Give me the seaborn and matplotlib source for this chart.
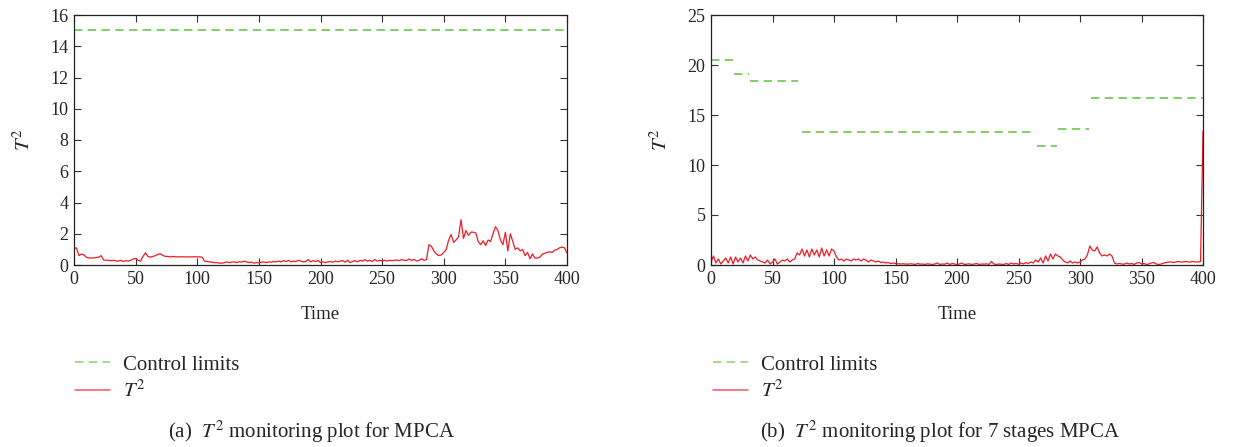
import numpy as np
import pandas as pd
import matplotlib
matplotlib.use("Agg")
import matplotlib.pyplot as plt
import seaborn as sns
from matplotlib.lines import Line2D

# ---------------- data ----------------
time_step = 2
t_max = 400

# (a) MPCA T^2, sampled every 2 time units (0..400)
t2_mpca = [
    1.05, 1.10, 0.60, 0.70, 0.65, 0.50, 0.45, 0.45, 0.45, 0.48,
    0.50, 0.60, 0.32, 0.30, 0.30, 0.28, 0.30, 0.27, 0.25, 0.30,
    0.22, 0.28, 0.25, 0.30, 0.38, 0.42, 0.30, 0.25, 0.55, 0.78,
    0.55, 0.50, 0.55, 0.60, 0.68, 0.72, 0.62, 0.55, 0.55, 0.52,
    0.55, 0.53, 0.52, 0.52, 0.53, 0.52, 0.52, 0.52, 0.52, 0.53,
    0.52, 0.52, 0.50, 0.25, 0.22, 0.20, 0.18, 0.15, 0.15, 0.12,
    0.12, 0.15, 0.20, 0.15, 0.18, 0.20, 0.15, 0.22, 0.18, 0.25,
    0.20, 0.15, 0.18, 0.12, 0.15, 0.15, 0.18, 0.20, 0.15, 0.20,
    0.18, 0.22, 0.20, 0.25, 0.20, 0.28, 0.22, 0.30, 0.20, 0.25,
    0.22, 0.30, 0.25, 0.20, 0.22, 0.35, 0.20, 0.28, 0.22, 0.30,
    0.15, 0.20, 0.15, 0.20, 0.22, 0.18, 0.25, 0.20, 0.25, 0.28,
    0.18, 0.30, 0.15, 0.22, 0.28, 0.20, 0.30, 0.25, 0.35, 0.25,
    0.30, 0.22, 0.35, 0.25, 0.30, 0.25, 0.30, 0.25, 0.30, 0.28,
    0.30, 0.32, 0.28, 0.35, 0.30, 0.30, 0.38, 0.30, 0.35, 0.25,
    0.30, 0.40, 0.30, 0.35, 1.30, 1.20, 0.90, 0.70, 0.60, 0.65,
    0.80, 1.00, 1.60, 1.95, 1.45, 1.60, 1.80, 2.90, 1.70, 2.20,
    1.90, 2.10, 2.10, 2.05, 1.50, 1.30, 1.55, 1.25, 1.60, 1.50,
    2.00, 2.45, 2.20, 1.60, 1.30, 2.10, 0.90, 2.00, 1.50, 1.00,
    1.10, 0.90, 1.00, 0.60, 0.80, 0.40, 0.70, 0.45, 0.45, 0.50,
    0.70, 0.75, 0.80, 0.85, 0.80, 0.95, 1.00, 1.10, 1.15, 1.10,
    0.75,
]

# (b) 7-stage MPCA T^2, sampled every 2 time units (0..400)
t2_stages = [
    0.30, 0.90, 0.20, 0.60, 0.10, 0.40, 0.70, 0.20, 0.80, 0.10,
    0.80, 0.30, 0.70, 0.20, 0.90, 0.40, 1.00, 0.60, 0.80, 0.50,
    0.40, 0.30, 0.20, 0.50, 0.10, 0.30, 0.60, 0.10, 0.30, 0.50,
    0.40, 0.60, 0.30, 0.50, 0.60, 1.20, 1.00, 1.60, 0.90, 1.50,
    0.80, 1.60, 1.00, 1.50, 0.80, 1.70, 0.90, 1.50, 0.90, 1.60,
    1.40, 0.80, 0.50, 0.60, 0.40, 0.60, 0.50, 0.40, 0.60, 0.50,
    0.60, 0.40, 0.60, 0.50, 0.30, 0.50, 0.40, 0.30, 0.40, 0.25,
    0.30, 0.20, 0.25, 0.15, 0.20, 0.15, 0.12, 0.10, 0.12, 0.10,
    0.08, 0.12, 0.10, 0.05, 0.15, 0.08, 0.10, 0.05, 0.12, 0.08,
    0.05, 0.10, 0.20, 0.05, 0.10, 0.08, 0.20, 0.05, 0.15, 0.10,
    0.05, 0.10, 0.20, 0.05, 0.08, 0.12, 0.05, 0.10, 0.15, 0.05,
    0.10, 0.08, 0.12, 0.05, 0.35, 0.10, 0.05, 0.10, 0.08, 0.05,
    0.15, 0.05, 0.20, 0.10, 0.15, 0.08, 0.20, 0.10, 0.25, 0.15,
    0.30, 0.20, 0.50, 0.30, 0.70, 0.20, 0.90, 0.40, 1.10, 0.60,
    1.10, 0.90, 0.80, 0.50, 0.30, 0.20, 0.40, 0.20, 0.30, 0.20,
    0.30, 0.50, 0.60, 1.00, 1.90, 1.50, 1.40, 1.80, 1.20, 0.90,
    1.00, 0.90, 1.10, 0.90, 0.20, 0.10, 0.15, 0.10, 0.08, 0.20,
    0.10, 0.15, 0.05, 0.20, 0.25, 0.10, 0.15, 0.05, 0.10, 0.20,
    0.25, 0.10, 0.05, 0.10, 0.20, 0.25, 0.30, 0.30, 0.25, 0.30,
    0.35, 0.30, 0.30, 0.35, 0.30, 0.30, 0.35, 0.30, 0.30, 0.35,
    13.40,
]

# control limits
mpca_limit = 15.05
stage_start = [0, 19, 32, 74, 265, 282, 309]
stage_end = [18, 31, 71, 264, 281, 307, 400]
stage_limit = [20.5, 19.1, 18.45, 13.35, 11.95, 13.65, 16.7]

x_ticks = [0, 50, 100, 150, 200, 250, 300, 350, 400]
y_ticks_a = [0, 2, 4, 6, 8, 10, 12, 14, 16]
y_ticks_b = [0, 5, 10, 15, 20, 25]

captions = [r"(a)  $T^2$ monitoring plot for MPCA",
            r"(b)  $T^2$ monitoring plot for 7 stages MPCA"]

# ---------------- style ----------------
sns.set_theme(style="ticks")
plt.rcParams["font.family"] = ["Liberation Serif", "DejaVu Serif"]
plt.rcParams["mathtext.fontset"] = "stix"
plt.rcParams["xtick.direction"] = "in"
plt.rcParams["ytick.direction"] = "in"

RED = "#ee1c25"
GREEN = "#5fc13c"
FS = 13
FS_BIG = 15

time = np.arange(0, t_max + 1, time_step)
df_a = pd.DataFrame({"Time": time, "T2": t2_mpca})
df_b = pd.DataFrame({"Time": time, "T2": t2_stages})
lim_a = pd.DataFrame({"Time": [0, t_max], "limit": [mpca_limit, mpca_limit]})
rows = []
for i, (s, e, v) in enumerate(zip(stage_start, stage_end, stage_limit)):
    rows.append({"stage": i, "Time": s, "limit": v})
    rows.append({"stage": i, "Time": e, "limit": v})
lim_b = pd.DataFrame(rows)

fig = plt.figure(figsize=(12.45, 4.47), dpi=100)
ax_a = fig.add_axes([74 / 1245, 1 - 265 / 447, 493 / 1245, 250 / 447])
ax_b = fig.add_axes([711 / 1245, 1 - 265 / 447, 492 / 1245, 250 / 447])

dash = (5.5, 3.5)
sns.lineplot(data=lim_a, x="Time", y="limit", ax=ax_a, color=GREEN,
             lw=1.1, legend=False).lines[0].set_dashes(dash)
sns.lineplot(data=df_a, x="Time", y="T2", ax=ax_a, color=RED, lw=0.9,
             legend=False)

sns.lineplot(data=lim_b, x="Time", y="limit", units="stage", estimator=None,
             ax=ax_b, color=GREEN, lw=1.1, legend=False)
for ln in ax_b.lines:
    ln.set_dashes(dash)
sns.lineplot(data=df_b, x="Time", y="T2", ax=ax_b, color=RED, lw=0.9,
             legend=False)

for ax, yt, ytop, cap, cx, lx in [
    (ax_a, y_ticks_a, 16, captions[0], 312, 75),
    (ax_b, y_ticks_b, 25, captions[1], 940, 713),
]:
    ax.set_xlim(0, t_max)
    ax.set_ylim(0, ytop)
    ax.set_xticks(x_ticks)
    ax.set_yticks(yt)
    ax.tick_params(axis="both", which="both", direction="in", length=5,
                   width=0.8, labelsize=FS, top=True, right=True,
                   color="#333333", pad=4)
    for sp in ax.spines.values():
        sp.set_visible(True)
        sp.set_linewidth(0.9)
        sp.set_color("#222222")
    ax.set_xlabel("Time", fontsize=FS + 0.5, labelpad=13)
    ax.set_ylabel(r"$T^2$", fontsize=FS + 2, labelpad=11)
    handles = [Line2D([], [], color=GREEN, lw=1.1, dashes=dash, alpha=0.75),
               Line2D([], [], color=RED, lw=1.1, alpha=0.75)]
    fig.legend(handles, ["Control limits", r"$T^2$"], loc="upper left",
               bbox_to_anchor=(lx / 1245, 1 - 355 / 447), frameon=False,
               fontsize=FS_BIG, handlelength=1.7, handletextpad=0.6,
               borderaxespad=0, borderpad=0, labelspacing=0.3)
    fig.text(cx / 1245, 1 - 432 / 447, cap, ha="center", va="center",
             fontsize=FS_BIG)

fig.savefig("out.png", dpi=100)
